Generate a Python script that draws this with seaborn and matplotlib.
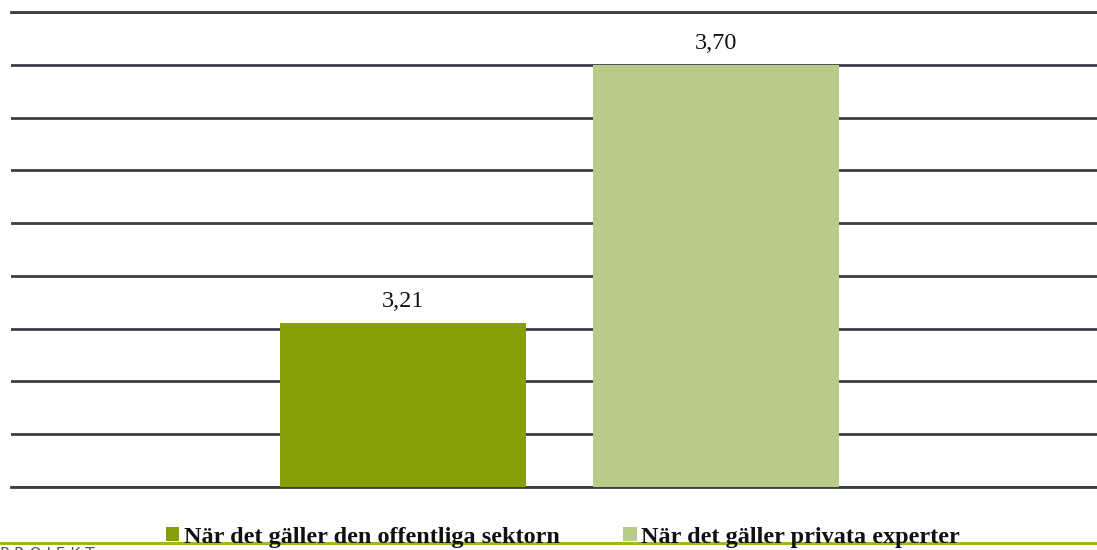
import matplotlib
matplotlib.use("Agg")
import matplotlib.pyplot as plt
import seaborn as sns
import pandas as pd
from matplotlib.patches import Patch

series = ["När det gäller den offentliga sektorn", "När det gäller privata experter"]
values = [3.21, 3.70]
labels = ["3,21", "3,70"]
category = [""]
colors = ["#889e06", "#b9cb88"]

df = pd.DataFrame({"cat": category * len(series), "serie": series, "value": values})

sns.set_theme(style="white")
plt.rcParams["font.family"] = ["Liberation Serif", "DejaVu Serif"]

fig = plt.figure(figsize=(10.97, 5.5), dpi=100)
ax = fig.add_axes([11 / 1097, 1 - 487 / 550, 1 - 11 / 1097, (487 - 12) / 550])

sns.barplot(data=df, x="cat", y="value", hue="serie", palette=colors,
            width=0.8, gap=0.214, ax=ax, legend=False, saturation=1,
            linewidth=0, edgecolor="none")

ax.set_ylim(2.9, 3.8)
ax.set_xlim(-0.701, 0.687)
ticks = [2.9 + 0.1 * i for i in range(10)]
ax.set_yticks(ticks)
ax.yaxis.grid(True, color="#3a3d42", linewidth=2)
ax.set_axisbelow(True)
for name, s in ax.spines.items():
    if name in ("top", "bottom"):
        s.set_visible(True)
        s.set_color("#3a3d42")
        s.set_linewidth(2)
        s.set_zorder(0.5)
    else:
        s.set_visible(False)
ax.set_xticks([])
ax.tick_params(left=False, labelleft=False, bottom=False)
ax.set_xlabel("")
ax.set_ylabel("")

for patch, lab in zip(ax.patches, labels):
    x = patch.get_x() + patch.get_width() / 2
    y = patch.get_height()
    ax.annotate(lab, (x, y), xytext=(0, 8), textcoords="offset points",
                ha="center", va="bottom", fontsize=17.5, color="#111111")

handles = [Patch(facecolor=c, edgecolor="none") for c in colors]
leg = fig.legend(handles, series, loc="center", bbox_to_anchor=(563 / 1097, 1 - 537 / 550),
                 ncol=2, frameon=False, fontsize=17.5, handlelength=0.55, handleheight=0.55,
                 handletextpad=0.2, columnspacing=2.6, borderaxespad=0)
for t in leg.get_texts():
    t.set_fontweight("bold")
    t.set_color("#111111")

fig.add_artist(plt.Line2D([0, 1], [1 - 543 / 550, 1 - 543 / 550], transform=fig.transFigure,
                          color="#9bba1c", linewidth=2.2, zorder=0))
fig.text(0.0, 1 - 547 / 550, "P R O J E K T", fontsize=11, color="#555555",
         va="top", ha="left", family="DejaVu Sans")

fig.savefig("out.png", dpi=100)
